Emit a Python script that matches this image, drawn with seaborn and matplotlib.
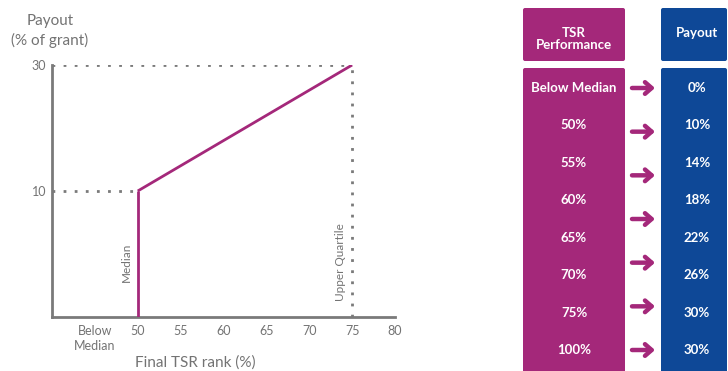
import matplotlib
matplotlib.use("Agg")
import matplotlib.pyplot as plt
from matplotlib.patches import FancyBboxPatch
import numpy as np
import pandas as pd
import seaborn as sns

# Vesting curve: payout rises linearly from median to upper quartile
rank_points = [50, 75]
payout_points = [10, 30]
median_rank = 50
upper_quartile_rank = 75

x_ticks = [45, 50, 55, 60, 65, 70, 75, 80]
x_tick_labels = ["Below\nMedian", "50", "55", "60", "65", "70", "75", "80"]
y_ticks = [10, 30]

# Vesting schedule table
tsr_labels = ["Below Median", "50%", "55%", "60%", "65%", "70%", "75%", "100%"]
payout_labels = ["0%", "10%", "14%", "18%", "22%", "26%", "30%", "30%"]
n_arrows = 7

PURPLE = "#A4287A"
BLUE = "#0E4897"
GREY = "#7a7a7a"
TEXT_GREY = "#737373"

sns.set_theme(style="white")
plt.rcParams["font.family"] = ["Lato", "DejaVu Sans"]

W, H = 728, 371
fig = plt.figure(figsize=(W / 100, H / 100), dpi=100)

# ---- left: payout curve ----
ax = fig.add_axes([52 / W, 1 - 317 / H, (395 - 52) / W, (317 - 65) / H])
Y_MIN, Y_MAX = -10, 30
ax.set_xlim(40, 80)
ax.set_ylim(Y_MIN, Y_MAX)

curve = pd.DataFrame({"rank": rank_points, "payout": payout_points})
sns.lineplot(data=curve, x="rank", y="payout", color=PURPLE, lw=2.0, ax=ax,
             zorder=4, solid_capstyle="butt")
ax.vlines(median_rank, Y_MIN, payout_points[0], color=PURPLE, lw=2.0, zorder=4)

dot = dict(color=GREY, lw=2.0, linestyle=(0, (1, 3)), zorder=3)
ax.plot([40, upper_quartile_rank], [payout_points[1]] * 2, **dot)
ax.plot([40, median_rank], [payout_points[0]] * 2, **dot)
ax.plot([upper_quartile_rank] * 2, [Y_MIN, payout_points[1]], **dot)

ax.text(median_rank - 1.3, -1.3, "Median", rotation=90, ha="center", va="center",
        fontsize=8.5, color=TEXT_GREY)
ax.text(upper_quartile_rank - 1.4, -1.3, "Upper Quartile", rotation=90,
        ha="center", va="center", fontsize=8.5, color=TEXT_GREY)

ax.set_xticks(x_ticks)
ax.set_xticklabels(x_tick_labels, fontsize=9, color=TEXT_GREY, linespacing=1.3)
ax.set_yticks(y_ticks)
ax.set_yticklabels([str(v) for v in y_ticks], fontsize=9, color=TEXT_GREY)
ax.tick_params(axis="x", direction="in", length=5, width=2, color=GREY, pad=6)
ax.tick_params(axis="y", length=0, pad=4)
ax.set_xlabel("")
ax.set_ylabel("")
for side in ("top", "right"):
    ax.spines[side].set_visible(False)
for side in ("left", "bottom"):
    ax.spines[side].set_color(GREY)
    ax.spines[side].set_linewidth(2)
ax.grid(False)

fig.text(195 / W, 1 - 363 / H, "Final TSR rank (%)", ha="center", va="center",
         fontsize=11, color=TEXT_GREY)
fig.text(50 / W, 1 - 31 / H, "Payout\n(% of grant)", ha="center", va="center",
         fontsize=11, color=TEXT_GREY, linespacing=1.4)

# ---- right: vesting table ----
tx = fig.add_axes([0, 0, 1, 1])
tx.set_xlim(0, W)
tx.set_ylim(H, 0)
tx.axis("off")
tx.patch.set_alpha(0)


def box(x0, y0, x1, y1, color):
    tx.add_patch(FancyBboxPatch((x0, y0), x1 - x0, y1 - y0,
                                boxstyle="round,pad=0,rounding_size=2",
                                fc=color, ec="none"))


box(523, 8, 625, 61, PURPLE)
box(523, 68, 625, 375, PURPLE)
box(661, 8, 727, 61, BLUE)
box(661, 68, 727, 375, BLUE)

bold = dict(color="white", fontweight="bold", ha="center", va="center")
tx.text(574, 39, "TSR\nPerformance", fontsize=9.5, linespacing=1.0, **bold)
tx.text(697, 33, "Payout", fontsize=9.5, **bold)

row_y = np.linspace(88, 350, len(tsr_labels))
for y, t, p in zip(row_y, tsr_labels, payout_labels):
    tx.text(574, y, t, fontsize=9.5, **bold)
    tx.text(697, y, p, fontsize=9.5, **bold)

for y in np.linspace(88, 350, n_arrows):
    tx.annotate("", xy=(655, y), xytext=(632, y),
                arrowprops=dict(arrowstyle="->,head_length=0.4,head_width=0.35",
                                color=PURPLE, lw=3.2, shrinkA=0, shrinkB=0))

fig.savefig("out.png", dpi=100)
